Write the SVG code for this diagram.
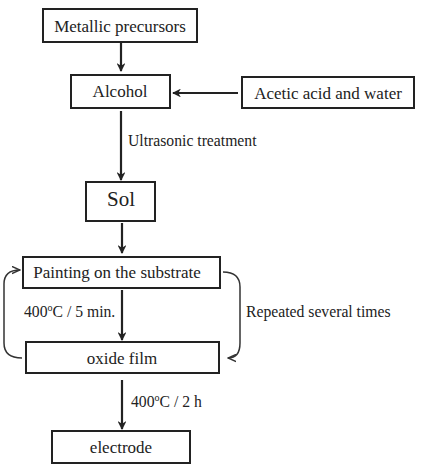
<svg xmlns="http://www.w3.org/2000/svg" width="423" height="474" viewBox="0 0 423 474">
<style>
.box{fill:#fff;stroke:#222;stroke-width:2}
.t{font-size:17px;fill:#222;text-anchor:middle}
.l{font-size:15.7px;fill:#222}
.c{fill:none;stroke:#222;stroke-width:2.2}
.b{fill:none;stroke:#333;stroke-width:1.5}
</style>
<defs>
<marker id="ah" viewBox="0 0 10 10" refX="9" refY="5" markerWidth="4" markerHeight="4" orient="auto" markerUnits="strokeWidth">
<path d="M0,0 L10,5 L0,10 L3,5 Z" fill="#222"/>
</marker>
<marker id="ah2" viewBox="0 0 10 10" refX="9" refY="5" markerWidth="6" markerHeight="6" orient="auto" markerUnits="strokeWidth">
<path d="M0,1 L9,5 L0,9" fill="none" stroke="#333" stroke-width="1.6"/>
</marker>
</defs>
<g id="connectors">
<line class="c" x1="121" y1="43" x2="121" y2="71" marker-end="url(#ah)"/>
<line class="c" x1="238" y1="93" x2="173" y2="93" marker-end="url(#ah)"/>
<line class="c" x1="121" y1="111" x2="121" y2="180" marker-end="url(#ah)"/>
<line class="c" x1="122" y1="223" x2="122" y2="253" marker-end="url(#ah)"/>
<line class="c" x1="122" y1="290" x2="122" y2="340" marker-end="url(#ah)"/>
<line class="c" x1="122" y1="380" x2="122" y2="429" marker-end="url(#ah)"/>
<path class="b" d="M223,272 Q240,272 240,287 L240,343 Q240,358 228,358" marker-end="url(#ah2)"/>
<path class="b" d="M22,358 Q4,358 4,343 L4,284 Q4,270 20,270" marker-end="url(#ah2)"/>
</g>
<g font-family="'Liberation Serif', 'Times New Roman', 'DejaVu Serif', serif">
<g id="n1"><rect class="box" x="43" y="9" width="154" height="33"/><text class="t" x="120" y="32">Metallic precursors</text></g>
<g id="n2"><rect class="box" x="71" y="75" width="99" height="33"/><text class="t" x="120" y="97">Alcohol</text></g>
<g id="n3"><rect class="box" x="242" y="77" width="172" height="31"/><text class="t" x="328" y="99">Acetic acid and water</text></g>
<g id="n4"><rect class="box" x="86" y="182" width="69" height="39"/><text class="t" x="121" y="206" style="font-size:21px">Sol</text></g>
<g id="n5"><rect class="box" x="23" y="257" width="197" height="31"/><text class="t" x="117" y="278">Painting on the substrate</text></g>
<g id="n6"><rect class="box" x="26" y="342" width="193" height="31"/><text class="t" x="122" y="364">oxide film</text></g>
<g id="n7"><rect class="box" x="52" y="431" width="138" height="32"/><text class="t" x="121" y="453">electrode</text></g>
<g id="labels">
<text class="l" x="128" y="146">Ultrasonic treatment</text>
<text class="l" x="24" y="317">400<tspan font-size="10" dy="-6">o</tspan><tspan dy="6">C / 5 min.</tspan></text>
<text class="l" x="246" y="317">Repeated several times</text>
<text class="l" x="131" y="407">400<tspan font-size="10" dy="-6">o</tspan><tspan dy="6">C / 2 h</tspan></text>
</g>
</g>
</svg>
